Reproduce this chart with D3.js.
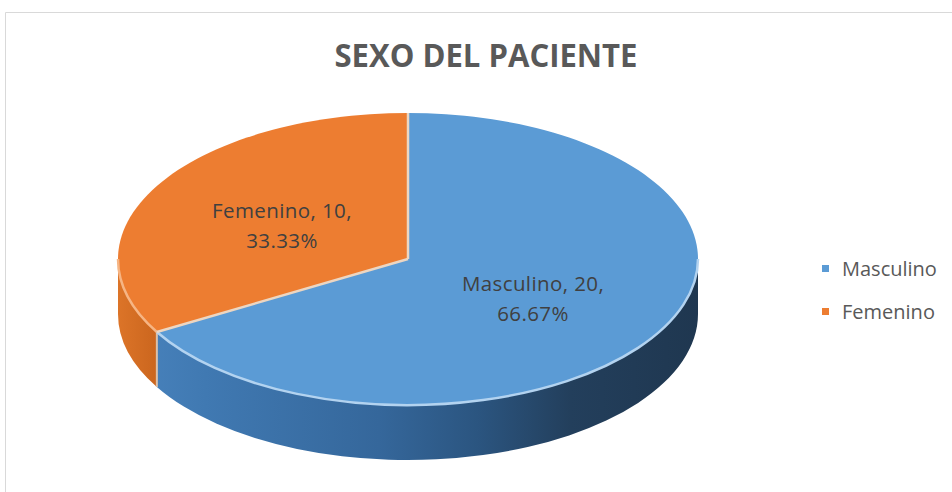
<!DOCTYPE html>
<html>
<head>
<meta charset="utf-8">
<script src="https://cdn.jsdelivr.net/npm/d3@7"></script>
<style>
  body { margin: 0; background: #fff; }
  svg { display: block; }
</style>
</head>
<body>
<svg id="pie"></svg>
<script>
var categories = ['Masculino', 'Femenino']
var counts = [20, 10]
var percentLabels = ['66.67%', '33.33%']
var chartTitle = 'SEXO DEL PACIENTE'

var outerWidth = 952, outerHeight = 492

// ellipse of the pie top and the thickness of the wall
var cx = 408, cy = 259, rx = 290, ry = 146, depth = 55

var topColors = ['#5B9BD5', '#ED7D31']
var rimColors = ['#b3d3f0', '#f6b584']

let svg = d3
    .select('svg#pie')
    .attr('width', outerWidth)
    .attr('height', outerHeight)

// chart frame
svg.append('path')
    .attr('d', 'M5.5,' + outerHeight + ' L5.5,12.5 L' + outerWidth + ',12.5')
    .attr('fill', 'none')
    .attr('stroke', '#d9d9d9')
    .attr('stroke-width', 1)

var defs = svg.append('defs')

var blueWall = defs.append('linearGradient')
    .attr('id', 'blueWall')
    .attr('gradientUnits', 'userSpaceOnUse')
    .attr('x1', cx - rx).attr('x2', cx + rx).attr('y1', 0).attr('y2', 0)
blueWall.selectAll('stop')
    .data([[0, '#4a84be'], [0.15, '#4079b2'], [0.45, '#35679b'], [0.62, '#2b5580'], [0.78, '#233f5c'], [1, '#1f3750']])
    .join('stop')
    .attr('offset', d => d[0])
    .attr('stop-color', d => d[1])

var orangeWall = defs.append('linearGradient')
    .attr('id', 'orangeWall')
    .attr('gradientUnits', 'userSpaceOnUse')
    .attr('x1', cx - rx).attr('x2', cx - rx * 0.85).attr('y1', 0).attr('y2', 0)
orangeWall.selectAll('stop')
    .data([[0, '#dc7428'], [1, '#c9641d']])
    .join('stop')
    .attr('offset', d => d[0])
    .attr('stop-color', d => d[1])

var wallFills = ['url(#blueWall)', 'url(#orangeWall)']

var pie = d3.pie().sort(null).value(d => d)
var arcs = pie(counts)

function pt(a, dy) {
    return [cx + rx * Math.sin(a), cy - ry * Math.cos(a) + (dy || 0)]
}

function arcTo(a, b, dy, sweep) {
    var p = pt(b, dy)
    var large = Math.abs(b - a) > Math.PI ? 1 : 0
    return 'A' + rx + ',' + ry + ' 0 ' + large + ' ' + sweep + ' ' + p[0] + ',' + p[1]
}

// visible (front) part of each slice's outer wall
function wallPath(d) {
    var a = Math.max(d.startAngle, Math.PI / 2)
    var b = Math.min(d.endAngle, Math.PI * 3 / 2)
    if (b <= a) return null
    var p0 = pt(a, 0), p1 = pt(b, depth)
    return 'M' + p0 + arcTo(a, b, 0, 1) + 'L' + p1 + arcTo(b, a, depth, 0) + 'Z'
}

function topPath(d) {
    var p0 = pt(d.startAngle, 0)
    return 'M' + cx + ',' + cy + 'L' + p0 + arcTo(d.startAngle, d.endAngle, 0, 1) + 'Z'
}

function rimPath(d) {
    var a = Math.max(d.startAngle, Math.PI / 2)
    var b = Math.min(d.endAngle, Math.PI * 3 / 2)
    if (b <= a) return null
    return 'M' + pt(a, 0) + arcTo(a, b, 0, 1)
}

let plot = svg.append('g').attr('id', 'pie-3d')

plot.selectAll('.wall')
    .data(arcs)
    .join('path')
    .attr('class', 'wall')
    .attr('d', wallPath)
    .attr('fill', (d, i) => wallFills[i])

// seam between the walls
plot.selectAll('.wall-seam')
    .data(arcs.filter(d => d.startAngle > Math.PI / 2 && d.startAngle < Math.PI * 3 / 2))
    .join('line')
    .attr('class', 'wall-seam')
    .attr('x1', d => pt(d.startAngle, 0)[0])
    .attr('y1', d => pt(d.startAngle, 0)[1])
    .attr('x2', d => pt(d.startAngle, depth)[0])
    .attr('y2', d => pt(d.startAngle, depth)[1])
    .attr('stroke', '#dcc0a8')
    .attr('stroke-width', 2)

plot.selectAll('.top')
    .data(arcs)
    .join('path')
    .attr('class', 'top')
    .attr('d', topPath)
    .attr('fill', (d, i) => topColors[i])

plot.selectAll('.rim')
    .data(arcs)
    .join('path')
    .attr('class', 'rim')
    .attr('d', rimPath)
    .attr('fill', 'none')
    .attr('stroke', (d, i) => rimColors[i])
    .attr('stroke-width', 2.5)

// light edges where the slices meet on top
plot.selectAll('.seam')
    .data(arcs)
    .join('line')
    .attr('class', 'seam')
    .attr('x1', cx)
    .attr('y1', cy)
    .attr('x2', d => pt(d.startAngle, 0)[0])
    .attr('y2', d => pt(d.startAngle, 0)[1])
    .attr('stroke', '#ecd6c2')
    .attr('stroke-width', 2.5)

// data labels
var labelPos = [[533, 291], [282, 218]]
var labels = plot.selectAll('.data-label')
    .data(arcs)
    .join('text')
    .attr('class', 'data-label')
    .attr('text-anchor', 'middle')
    .style('font-family', '"Open Sans", sans-serif')
    .style('font-size', '20.5px')
    .style('letter-spacing', '0.4px')
    .style('fill', '#404040')

labels.append('tspan')
    .attr('x', (d, i) => labelPos[i][0])
    .attr('y', (d, i) => labelPos[i][1])
    .text((d, i) => categories[i] + ', ' + counts[i] + ',')
labels.append('tspan')
    .attr('x', (d, i) => labelPos[i][0])
    .attr('dy', 30)
    .text((d, i) => percentLabels[i])

// title
svg.append('text')
    .attr('x', 486)
    .attr('y', 67)
    .attr('text-anchor', 'middle')
    .attr('textLength', 303)
    .attr('lengthAdjust', 'spacingAndGlyphs')
    .style('font-family', '"Open Sans", sans-serif')
    .style('font-weight', 'bold')
    .style('font-size', '33px')
    .style('fill', '#595959')
    .text(chartTitle)

// legend
var legend = svg.selectAll('.legend')
    .data(categories)
    .join('g')
    .attr('class', 'legend')
    .attr('transform', (d, i) => 'translate(822,' + (265 + i * 43) + ')')

legend.append('rect')
    .attr('width', 7)
    .attr('height', 7)
    .attr('fill', (d, i) => topColors[i])

legend.append('text')
    .attr('x', 20)
    .attr('y', 11)
    .style('font-family', '"Open Sans", sans-serif')
    .style('font-size', '20px')
    .style('fill', '#595959')
    .text(d => d)
</script>
</body>
</html>
